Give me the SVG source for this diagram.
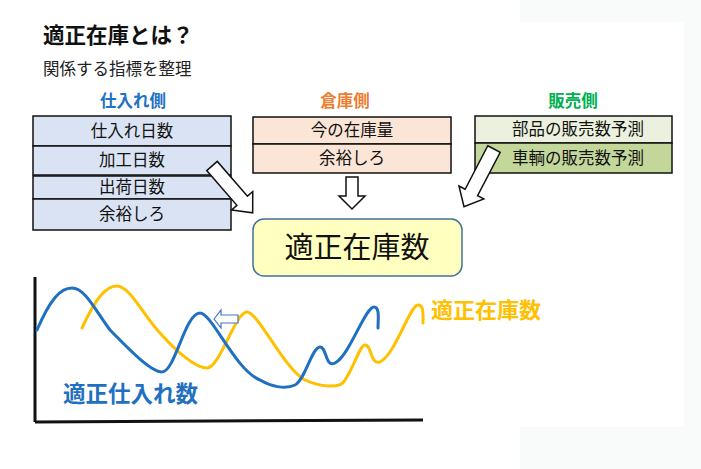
<svg xmlns="http://www.w3.org/2000/svg" width="701" height="469" viewBox="0 0 701 469">
<style>
  text { font-family: "Noto Sans CJK JP", "Noto Sans", sans-serif; }
  .hdr { font-size: 16.5px; font-weight: bold; text-anchor: middle; }
  .cell { stroke: #111; stroke-width: 1.5; }
  .ct { font-size: 16.5px; text-anchor: middle; fill: #111; }
  .barrow { fill: #fff; stroke: #111; stroke-width: 1.5; stroke-linejoin: miter; }
  .curve { fill: none; stroke-width: 3; stroke-linecap: round; stroke-linejoin: round; }
</style>
<rect width="701" height="469" fill="#fff"/>
<rect x="520" y="0" width="181" height="22" fill="#f9fafa"/>
<rect x="684" y="22" width="17" height="405" fill="#f9fafa"/>
<rect x="520" y="427" width="181" height="42" fill="#f9fafa"/>

<text x="43" y="43" font-size="21.5" font-weight="bold" fill="#111">適正在庫とは？</text>
<text x="43" y="75" font-size="16.5" fill="#222">関係する指標を整理</text>

<g id="purchase">
  <text class="hdr" x="133" y="107" fill="#2172c3">仕入れ側</text>
  <rect class="cell" x="33" y="116" width="198" height="30" fill="#dae3f3"/>
  <rect class="cell" x="33" y="146" width="198" height="29" fill="#dae3f3"/>
  <rect class="cell" x="33" y="176" width="198" height="23" fill="#dae3f3"/>
  <rect class="cell" x="33" y="199" width="198" height="31" fill="#dae3f3"/>
  <text class="ct" x="132" y="137">仕入れ日数</text>
  <text class="ct" x="132" y="166">加工日数</text>
  <text class="ct" x="132" y="193">出荷日数</text>
  <text class="ct" x="132" y="220">余裕しろ</text>
</g>

<g id="warehouse">
  <text class="hdr" x="345" y="107" fill="#ed7d31">倉庫側</text>
  <rect class="cell" x="253" y="117" width="198" height="27" fill="#fbe5d6"/>
  <rect class="cell" x="253" y="144" width="198" height="29" fill="#fbe5d6"/>
  <text class="ct" x="352" y="136">今の在庫量</text>
  <text class="ct" x="352" y="164">余裕しろ</text>
</g>

<g id="sales">
  <text class="hdr" x="573" y="107" fill="#00b050">販売側</text>
  <rect class="cell" x="475" y="116" width="197" height="27" fill="#ebf1de"/>
  <rect class="cell" x="475" y="143" width="197" height="30" fill="#c4d79b"/>
  <text class="ct" x="578" y="135">部品の販売数予測</text>
  <text class="ct" x="578" y="164">車輌の販売数予測</text>
</g>

<g id="target">
  <rect x="253" y="219" width="209" height="57" rx="11" fill="#ffffc0" stroke="#41719c" stroke-width="1.5"/>
  <text x="357" y="258" font-size="29" text-anchor="middle" fill="#111">適正在庫数</text>
</g>

<g id="connectors">
  <path class="barrow" transform="translate(212,166) rotate(-41)" d="M-7,0 L7,0 L7,46 L14,46 L0,62 L-14,46 L-7,46 Z"/>
  <path class="barrow" transform="translate(352,177)" d="M-6,0 L6,0 L6,19 L13,19 L0,32 L-13,19 L-6,19 Z"/>
  <path class="barrow" transform="translate(494,149) rotate(27.5)" d="M-7,0 L7,0 L7,49 L14,49 L0,65 L-14,49 L-7,49 Z"/>
</g>

<g id="chart">
  <line x1="35" y1="277" x2="35" y2="422" stroke="#111" stroke-width="3"/>
  <line x1="35" y1="422" x2="423" y2="420" stroke="#111" stroke-width="3"/>
  <path class="curve" stroke="#ffc000" d="M82,328 C95,300 105,286 117,286 C130,286 145,318 160,333 C175,350 195,368 207,368 C220,368 235,312 247,312 C258,312 285,370 305,380 C318,386 340,390 345,380 C355,365 360,345 365,345 C372,345 370,365 380,362 C395,355 410,305 418,305 C424,305 423,315 423,323"/>
  <path class="curve" stroke="#1f70c0" d="M37,330 C50,300 60,288 72,288 C85,288 95,310 110,330 C125,345 150,372 162,372 C175,372 185,313 200,313 C212,313 235,370 260,380 C270,386 285,390 295,385 C305,380 312,347 320,347 C327,347 325,368 335,363 C350,355 365,307 374,307 C380,307 378,320 378,328"/>
  <path d="M214,319 L221,310 L221,315 L238,315 L238,323 L221,323 L221,328 Z" fill="#fff" stroke="#4472c4" stroke-width="1.2"/>
  <text x="63" y="402" font-size="22.5" font-weight="bold" fill="#1f70c0">適正仕入れ数</text>
  <text x="431" y="318" font-size="22" font-weight="bold" fill="#ffc000">適正在庫数</text>
</g>
</svg>
